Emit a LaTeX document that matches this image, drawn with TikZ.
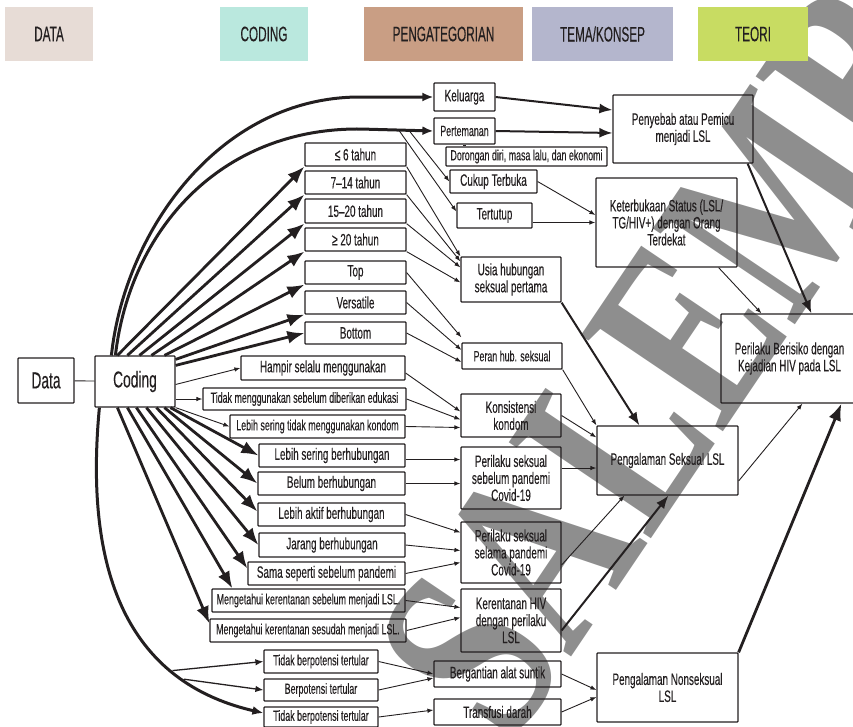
\documentclass[tikz,border=0pt]{standalone}
\usepackage{fontspec}
\setmainfont{Liberation Sans}[FakeStretch=0.6, FakeBold=0.25]
\newfontfamily\headfont{Liberation Sans}[FakeStretch=0.56, FakeBold=0.25]
\newfontfamily\markfont{Liberation Serif}
\usetikzlibrary{arrows.meta}

\definecolor{ink}{HTML}{231F20}
\definecolor{hdata}{HTML}{E7DCD6}
\definecolor{hcod}{HTML}{BAE8DE}
\definecolor{hpeng}{HTML}{C99E84}
\definecolor{htema}{HTML}{B4B6CD}
\definecolor{hteori}{HTML}{C8DC62}
\definecolor{markgray}{HTML}{8E8E8E}

% box given by its left, right, top and bottom edges
\newcommand\placebox[7]{%
  \node[#1, minimum width={(#4)-(#3)}, minimum height={(#6)-(#5)}]
    (#2) at ({((#3)+(#4))/2},{((#5)+(#6))/2}) {#7};}

\begin{document}
\begin{tikzpicture}[x=1pt,y=-1pt,
  box/.style={draw=ink, line width=1.2pt, rounded corners=0.8pt, inner sep=1pt,
    text=ink, align=center, font=\fontsize{16.5}{17}\selectfont},
  sbox/.style={box, font=\fontsize{14.8}{15}\selectfont},
  bigbox/.style={box, font=\fontsize{23}{24}\selectfont},
  head/.style={inner sep=0pt, text=ink, font=\headfont\fontsize{21}{22}\selectfont},
  plain/.style={draw=ink, line width=0.9pt},
  thin/.style={plain, -{Latex[length=6pt,width=4.5pt]}},
  mid/.style={draw=ink, line width=1.3pt, -{Latex[length=8pt,width=6.5pt]}},
  med/.style={draw=ink, line width=2pt, -{Latex[length=13pt,width=10pt]}},
  big/.style={draw=ink, line width=2.8pt, -{Latex[length=17pt,width=13pt]}},
  curve/.style={draw=ink, line width=3pt, -{Latex[length=11pt,width=9pt]}},
]
\useasboundingbox (0,0) rectangle (853,726);

% publisher stamp, lying under the chart
\node[rotate=56, inner sep=0pt, text=markgray,
  font=\markfont\bfseries\fontsize{194}{194}\selectfont] (stamp) at (708,302)
  {\scalebox{1}[1.35]{SALEMBA}};

% column headers
\placebox{head, fill=hdata}{hdata}{5}{93}{7}{61}{DATA}
\placebox{head, fill=hcod}{hcod}{220}{308}{7}{61}{CODING}
\placebox{head, fill=hpeng}{hpeng}{364}{523}{7}{61}{PENGATEGORIAN}
\placebox{head, fill=htema}{htema}{532}{673}{7}{61}{TEMA/KONSEP}
\placebox{head, fill=hteori}{hteori}{698}{808}{7}{61}{TEORI}

% data and coding
\placebox{bigbox}{data}{18}{74}{358}{403}{Data}
\placebox{bigbox}{coding}{95}{175}{356}{407}{Coding}

% coded items
\placebox{box}{c1}{305}{406}{143}{166}{≤ 6 tahun}
\placebox{box}{c2}{305}{406}{171}{194}{7–14 tahun}
\placebox{box}{c3}{305}{406}{199}{223}{15–20 tahun}
\placebox{box}{c4}{305}{406}{228}{251}{≥ 20 tahun}
\placebox{box}{c5}{305}{406}{261}{284}{Top}
\placebox{box}{c6}{305}{406}{291}{314}{Versatile}
\placebox{box}{c7}{305}{406}{322}{344}{Bottom}
\placebox{box}{c8}{241}{405}{356}{380}{Hampir selalu menggunakan}
\placebox{sbox}{c9}{203}{406}{388}{410}{Tidak menggunakan sebelum diberikan edukasi}
\placebox{sbox}{c10}{230}{405}{415}{438}{Lebih sering tidak menggunakan kondom}
\placebox{box}{c11}{259}{405}{444}{467}{Lebih sering berhubungan}
\placebox{box}{c12}{258}{405}{472}{495}{Belum berhubungan}
\placebox{box}{c13}{258}{405}{503}{526}{Lebih aktif berhubungan}
\placebox{box}{c14}{259}{405}{533}{557}{Jarang berhubungan}
\placebox{box}{c15}{248}{405}{562}{585}{Sama seperti sebelum pandemi}
\placebox{sbox}{c16}{212}{405}{589}{612}{Mengetahui kerentanan sebelum menjadi LSL.}
\placebox{sbox}{c17}{210}{406}{619}{642}{Mengetahui kerentanan sesudah menjadi LSL.}
\placebox{sbox}{c18}{264}{378}{650}{673}{Tidak berpotensi tertular}
\placebox{sbox}{c19}{264}{378}{679}{701}{Berpotensi tertular}
\placebox{sbox}{c20}{264}{378}{707}{727}{Tidak berpotensi tertular}

% categories
\placebox{box}{kel}{434}{495}{83}{111}{Keluarga}
\placebox{sbox}{per}{434}{495}{118}{144}{Pertemanan}
\placebox{sbox}{dor}{446}{607}{147}{166}{Dorongan diri, masa lalu, dan ekonomi}
\placebox{box}{cuk}{450}{537}{170}{193}{Cukup Terbuka}
\placebox{box}{ter}{457}{532}{203}{228}{Tertutup}
\placebox{box}{usia}{461}{561}{257}{302}{Usia hubungan\\seksual pertama}
\placebox{sbox}{peran}{462}{562}{343}{369}{Peran hub. seksual}
\placebox{box}{kons}{461}{561}{394}{437}{Konsistensi\\kondom}
\placebox{box}{pseb}{461}{561}{447}{509}{Perilaku seksual\\sebelum pandemi\\Covid-19}
\placebox{box}{psel}{461}{561}{522}{583}{Perilaku seksual\\selama pandemi\\Covid-19}
\placebox{box}{ker}{461}{561}{589}{652}{Kerentanan HIV\\dengan perilaku\\LSL}
\placebox{box}{berg}{434}{561}{661}{687}{Bergantian alat suntik}
\placebox{box}{trans}{434}{561}{699}{725}{Transfusi darah}

% themes
\placebox{box}{peny}{613}{753}{95}{163}{Penyebab atau Pemicu\\menjadi LSL}
\placebox{box}{ketb}{596}{737}{178}{267}{Keterbukaan Status (LSL/\\TG/HIV+) dengan Orang\\Terdekat}
\placebox{box}{peng}{597}{738}{426}{495}{Pengalaman Seksual LSL}
\placebox{box}{nons}{597}{738}{653}{722}{Pengalaman Nonseksual\\LSL}

% theory
\placebox{box}{beri}{721}{858}{314}{403}{Perilaku Berisiko dengan\\Kejadian HIV pada LSL}

% ---- connectors ----
\draw[plain] (data) -- (coding);

% Coding to the upper coded items
\draw[curve] ([xshift=17pt]coding.north west) .. controls (125,230) and (220,97) .. (360,97) -- (kel.west);
\draw[curve] ([xshift=21pt]coding.north west) .. controls (130,230) and (220,128) .. (360,129) -- (per.west);
\draw[big] ([xshift=23pt]coding.north west) -- (c1.south west);
\draw[big] ([xshift=33pt]coding.north west) -- (c2.south west);
\draw[big] ([xshift=45pt]coding.north west) -- (c3.south west);
\draw[big] ([xshift=57pt]coding.north west) -- (c4.south west);
\draw[big] ([xshift=70pt]coding.north west) -- (c5.south west);
\draw[big] ([yshift=-4pt]coding.north east) -- (c6.south west);
\draw[big] ([yshift=-10pt]coding.north east) -- (c7.west);

% Coding to the condom items
\draw[thin] ([yshift=-3pt]coding.east) -- (c8.west);
\draw[thin] (coding.east |- c9.west) -- (c9.west);
\draw[thin] (coding.south east) -- (c10.west);

% Coding to the lower coded items
\draw[big] ([xshift=76pt]coding.south west) -- (c11.west);
\draw[big] ([xshift=70pt]coding.south west) -- (c12.west);
\draw[big] ([xshift=62pt]coding.south west) -- ([yshift=3pt]c13.west);
\draw[big] ([xshift=52pt]coding.south west) -- (c14.west);
\draw[big] ([xshift=42pt]coding.south west) -- ([yshift=5pt]c15.west);
\draw[big] ([xshift=33pt]coding.south west) -- ([xshift=21pt]c16.north west);
\draw[big] ([xshift=23pt]coding.south west) -- ([yshift=-5pt]c17.north west);

% Coding to the nonsexual items
\draw[curve] ([xshift=5pt]coding.south west) .. controls (85,560) and (120,680) .. ([yshift=4pt]c20.west)
  coordinate[pos=0.74] (br1) coordinate[pos=0.78] (br2);
\draw[mid] (br1) -- (c18.west);
\draw[mid] (br2) -- (c19.west);

% branches off the friendship line
\draw[thin] ([xshift=-24pt]per.west) -- (cuk.west);
\draw[thin] ([xshift=-34pt]per.west) -- ([yshift=4pt]ter.west);
\draw[ink, line width=3pt] (per.south) -- (per.south |- dor.north);

% coded items to categories
\draw[thin] (c1.south east) -- (usia.north west);
\draw[thin] (c2.south east) -- ([yshift=-5pt]usia.north west);
\draw[thin] (c3.south east) -- ([yshift=-11pt]usia.north west);
\draw[thin] (c4.south east) -- ([yshift=-26pt]usia.north west);
\draw[thin] (c5.east) -- ([yshift=5pt]peran.north west);
\draw[thin] (c6.east) -- ([yshift=6pt]peran.west);
\draw[thin] (c7.east) -- ([yshift=-6pt]peran.west);
\draw[thin] ([yshift=-5pt]c8.east) -- ([yshift=4pt]kons.west);
\draw[thin] (c9.east) -- ([yshift=-4pt]kons.west);
\draw[thin] (c10.east) -- ([yshift=-12pt]kons.west);
\draw[thin] ([yshift=-4pt]c11.east) -- ([yshift=-4pt]c11.east -| pseb.west);
\draw[thin] (c12.east) -- (c12.east -| pseb.west);
\draw[thin] (c13.east) -- ([yshift=-11pt]psel.north west);
\draw[thin] (c14.east) -- ([yshift=2pt]psel.west);
\draw[thin] (c15.east) -- ([yshift=-10pt]psel.west);
\draw[thin] (c16.east) -- ([yshift=13pt]ker.west);
\draw[thin] (c17.east) -- ([yshift=3pt]ker.west);
\draw[thin] (c18.east) -- (berg.west);
\draw[thin] (c19.east) -- ([yshift=-4pt]berg.west);
\draw[thin] (c20.east) -- ([yshift=2pt]trans.west);

% categories to themes
\draw[med] (kel.east) -- ([yshift=19pt]peny.west);
\draw[med] (per.east) -- ([yshift=-4pt]peny.west);
\draw[thin] (cuk.east) -- ([yshift=7.5pt]ketb.west);
\draw[thin] ([yshift=-7pt]ter.east) -- ([yshift=-7pt]ter.east -| ketb.west);
\draw[med] (usia.south east) -- ([xshift=43pt]peng.north west);
\draw[thin] (peran.south east) -- (peng.north west);
\draw[thin] (kons.east) -- ([yshift=-12pt]peng.north west);
\draw[thin] ([yshift=10pt]pseb.east) -- ([yshift=10pt]pseb.east -| peng.west);
\draw[thin] ([yshift=-12.5pt]psel.east) -- ([xshift=28pt]peng.south west);
\draw[med] ([yshift=-10pt]ker.east) -- ([xshift=72pt]peng.south west);
\draw[thin] (berg.east) -- ([yshift=-2.5pt]nons.west);
\draw[thin] (trans.east) -- ([yshift=-9.5pt]nons.west);

% themes to theory
\draw[med] ([xshift=-6pt]peny.south east) -- ([xshift=91pt]beri.north west);
\draw[thin] ([xshift=-19pt]ketb.south east) -- ([xshift=41pt]beri.north west);
\draw[thin] ([yshift=-20.5pt]peng.east) -- ([xshift=82pt]beri.south west);
\draw[big] (nons.north east) -- ([xshift=121pt]beri.south west);
\end{tikzpicture}
\end{document}
